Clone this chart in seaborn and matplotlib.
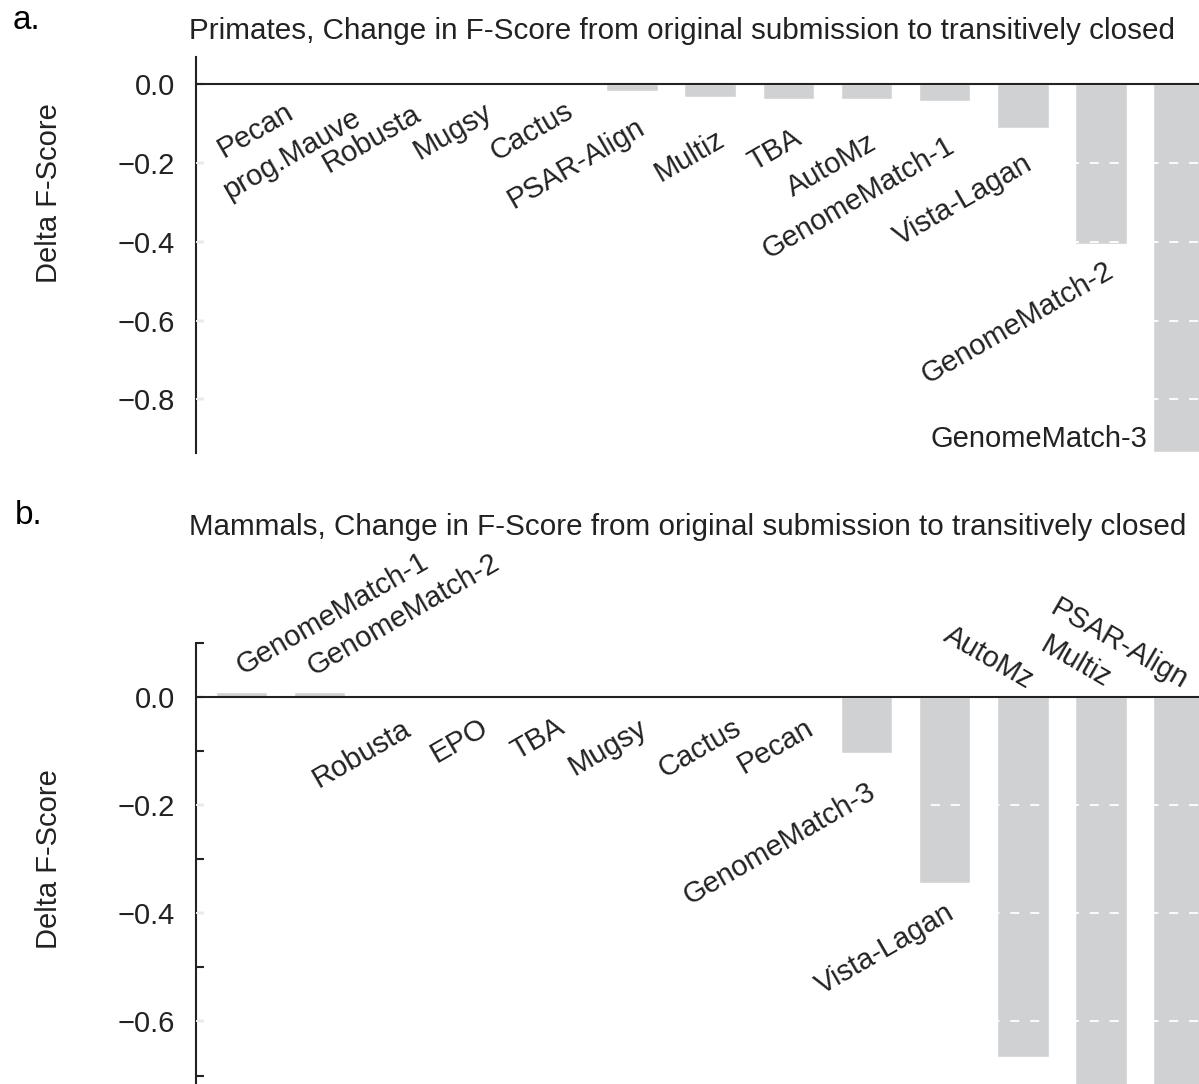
import matplotlib
matplotlib.use("Agg")
import matplotlib.pyplot as plt
import pandas as pd
import seaborn as sns

# ---- data -----------------------------------------------------------------
primate_methods = ["Pecan", "prog.Mauve", "Robusta", "Mugsy", "Cactus",
                   "PSAR-Align", "Multiz", "TBA", "AutoMz", "GenomeMatch-1",
                   "Vista-Lagan", "GenomeMatch-2", "GenomeMatch-3"]
primate_delta = [-0.001, -0.001, -0.001, -0.001, -0.001, -0.017, -0.031,
                 -0.038, -0.038, -0.042, -0.110, -0.405, -0.933]

mammal_methods = ["GenomeMatch-1", "GenomeMatch-2", "Robusta", "EPO", "TBA",
                  "Mugsy", "Cactus", "Pecan", "GenomeMatch-3", "Vista-Lagan",
                  "AutoMz", "Multiz", "PSAR-Align"]
mammal_delta = [0.008, 0.008, -0.001, -0.001, -0.001, -0.001, -0.001,
                -0.001, -0.103, -0.345, -0.665, -0.800, -0.840]

primate_ticks = [0.0, -0.2, -0.4, -0.6, -0.8]
primate_ticklabels = ["0.0", "\u22120.2", "\u22120.4", "\u22120.6", "\u22120.8"]
mammal_ticks = [0.1, 0.0, -0.1, -0.2, -0.3, -0.4, -0.5, -0.6, -0.7]
mammal_ticklabels = ["", "0.0", "", "\u22120.2", "", "\u22120.4", "", "\u22120.6", ""]

# method-name placement (x in category units, y in data units, rotation, alignment)
primate_label_layout = [
    (0.18, -0.116, 30, "center", "center"),
    (0.65, -0.177, 30, "center", "center"),
    (1.67, -0.139, 30, "center", "center"),
    (2.70, -0.119, 30, "center", "center"),
    (3.72, -0.120, 30, "center", "center"),
    (4.28, -0.201, 30, "center", "center"),
    (5.73, -0.181, 30, "center", "center"),
    (6.83, -0.166, 30, "center", "center"),
    (7.55, -0.207, 30, "center", "center"),
    (7.89, -0.289, 30, "center", "center"),
    (9.24, -0.293, 30, "center", "center"),
    (9.93, -0.605, 30, "center", "center"),
    (11.60, -0.920, 0, "right", "baseline"),
]
mammal_label_layout = [
    (1.17, 0.153, 30, "center", "center"),
    (2.08, 0.151, 30, "center", "center"),
    (1.54, -0.106, 30, "center", "center"),
    (2.79, -0.081, 30, "center", "center"),
    (3.79, -0.077, 30, "center", "center"),
    (4.69, -0.093, 30, "center", "center"),
    (5.86, -0.095, 30, "center", "center"),
    (6.84, -0.092, 30, "center", "center"),
    (6.88, -0.272, 30, "center", "center"),
    (8.24, -0.466, 30, "center", "center"),
    (9.56, 0.073, -30, "center", "center"),
    (10.67, 0.065, -30, "center", "center"),
    (11.23, 0.097, -30, "center", "center"),
]

# ---- style ----------------------------------------------------------------
sns.set_style("white")
plt.rcParams["font.family"] = ["Liberation Sans", "DejaVu Sans"]
FS = 21
BAR = "#d0d1d3"
INK = "#222222"

W, H = 1199, 1084
fig = plt.figure(figsize=(W / 100, H / 100), dpi=100)


def px_axes(left, top, right, bottom):
    return fig.add_axes([left / W, 1 - bottom / H, (right - left) / W, (bottom - top) / H])


def draw_panel(ax, methods, values, ylim, ticks, ticklabels, grid_vals, layout):
    df = pd.DataFrame({"method": methods, "delta": values})
    sns.barplot(data=df, x="method", y="delta", order=methods, color=BAR,
                width=0.66, saturation=1, ax=ax, zorder=2)
    ax.set_xlim(-0.584, 12.255)
    ax.set_ylim(*ylim)
    for sp in ["top", "right", "bottom"]:
        ax.spines[sp].set_visible(False)
    ax.spines["left"].set_color(INK)
    ax.spines["left"].set_linewidth(1.5)
    ax.set_xticks([])
    ax.set_xlabel("")
    ax.set_ylabel("")
    ax.set_yticks(ticks)
    ax.set_yticklabels(ticklabels)
    ax.tick_params(axis="y", left=True, direction="in", length=6, width=1.5,
                   color=INK, pad=15, labelsize=FS, labelcolor=INK)
    ax.axhline(0, color=INK, lw=1.5, zorder=4)
    for g in grid_vals:
        ax.axhline(g, color="white", lw=1.3, ls=(0, (5, 6)), zorder=3)
    for name, (x, y, rot, ha, va) in zip(methods, layout):
        ax.text(x, y, name, rotation=rot, ha=ha, va=va, fontsize=FS,
                color=INK, clip_on=False, zorder=5)


ax1 = px_axes(195.7, 57, W, 453.3)
draw_panel(ax1, primate_methods, primate_delta, (-0.937, 0.0693),
           primate_ticks, primate_ticklabels,
           [-0.2, -0.4, -0.6, -0.8], primate_label_layout)

ax2 = px_axes(195.7, 642.7, W, H)
draw_panel(ax2, mammal_methods, mammal_delta, (-0.7157, 0.1),
           mammal_ticks, mammal_ticklabels, [-0.2, -0.4, -0.6], mammal_label_layout)

# panel letters, titles and axis labels
fig.text(13 / W, 1 - 29 / H, "a.", fontsize=24, color="black", va="baseline")
fig.text(15 / W, 1 - 524 / H, "b.", fontsize=24, color="black", va="baseline")
fig.text(189 / W, 1 - 39 / H,
         "Primates, Change in F-Score from original submission to transitively closed",
         fontsize=21.3, color=INK, va="baseline")
fig.text(189 / W, 1 - 535 / H,
         "Mammals, Change in F-Score from original submission to transitively closed",
         fontsize=21.3, color=INK, va="baseline")
fig.text(48.7 / W, 1 - 193 / H, "Delta F-Score", rotation=90, fontsize=FS,
         color=INK, ha="center", va="center")
fig.text(48.7 / W, 1 - 859 / H, "Delta F-Score", rotation=90, fontsize=FS,
         color=INK, ha="center", va="center")

fig.savefig("out.png", dpi=100)
